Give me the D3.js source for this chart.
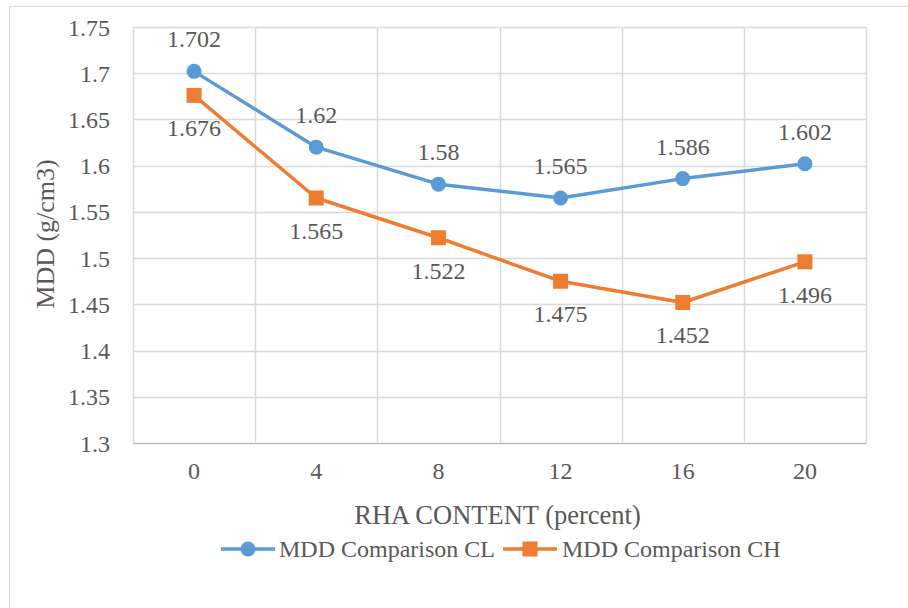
<!DOCTYPE html>
<html><head><meta charset="utf-8">
<script src="https://cdn.jsdelivr.net/npm/d3@7"></script>
<style>
html,body{margin:0;padding:0;background:#fff;}
</style></head>
<body>
<svg id="chart" width="908" height="608" font-family="'Liberation Serif', 'Times New Roman', 'DejaVu Serif', serif"></svg>
<script>
const categories = ["0","4","8","12","16","20"];
const seriesCL = [1.702,1.62,1.58,1.565,1.586,1.602];
const seriesCH = [1.676,1.565,1.522,1.475,1.452,1.496];
const yTicks = [1.3,1.35,1.4,1.45,1.5,1.55,1.6,1.65,1.7,1.75];
const seriesNames = ["MDD Comparison CL","MDD Comparison CH"];
const colors = ["#5B9BD5","#ED7D31"];
const FONT = "'Liberation Serif', 'Times New Roman', 'DejaVu Serif', serif";
const TXT = "#595959";

const svg = d3.select("#chart");
const m = {l:133, t:27, r:866, b:443};

svg.append("rect").attr("x",9.5).attr("y",6.5).attr("width",1000).attr("height",1000)
  .attr("fill","#fff").attr("stroke","#D9D9D9").attr("stroke-width",1);

const x = d3.scaleBand().domain(categories).range([m.l,m.r]).paddingInner(0).paddingOuter(0);
const y = d3.scaleLinear().domain([1.3,1.75]).range([m.b,m.t]);

function txt(sel){ return sel.style("font-family",FONT).attr("fill",TXT); }

// horizontal grid
svg.append("g").selectAll("line").data(yTicks).join("line")
  .attr("x1",m.l).attr("x2",m.r)
  .attr("y1",d=>Math.round(y(d))+0.5).attr("y2",d=>Math.round(y(d))+0.5)
  .attr("stroke",d=>d===1.3?"#BFBFBF":"#D9D9D9").attr("stroke-width",1.5);
// vertical grid at category boundaries
const bounds = categories.map(c=>x(c)).concat([m.r]);
svg.append("g").selectAll("line").data(bounds).join("line")
  .attr("x1",d=>Math.round(d)+0.5).attr("x2",d=>Math.round(d)+0.5)
  .attr("y1",m.t).attr("y2",m.b)
  .attr("stroke","#D9D9D9").attr("stroke-width",1.5);

// y tick labels
txt(svg.append("g").selectAll("text").data(yTicks).join("text"))
  .attr("x",110).attr("y",d=>y(d)+8.5)
  .attr("text-anchor","end").attr("font-size",24).text(d=>d);

// x tick labels
txt(svg.append("g").selectAll("text").data(categories).join("text"))
  .attr("x",d=>x(d)+x.bandwidth()/2).attr("y",479)
  .attr("text-anchor","middle").attr("font-size",24).text(d=>d);

// axis titles
txt(svg.append("text")).attr("x",(m.l+m.r)/2-2).attr("y",524).attr("text-anchor","middle")
  .attr("font-size",26.5).text("RHA CONTENT (percent)");
txt(svg.append("text")).attr("transform","translate(54,234) rotate(-90)").attr("text-anchor","middle")
  .attr("font-size",26).text("MDD (g/cm3)");

const cx = d=>x(d)+x.bandwidth()/2;
const line = d3.line().x((d,i)=>cx(categories[i])).y(d=>y(d));

[seriesCL, seriesCH].forEach((s,k)=>{
  svg.append("path").datum(s).attr("d",line).attr("fill","none")
    .attr("stroke",colors[k]).attr("stroke-width",3.5).attr("stroke-linejoin","round");
  const g = svg.append("g");
  if(k===0){
    g.selectAll("circle").data(s).join("circle")
      .attr("cx",(d,i)=>cx(categories[i])).attr("cy",d=>y(d)).attr("r",7.5).attr("fill",colors[k]);
  } else {
    g.selectAll("rect").data(s).join("rect")
      .attr("x",(d,i)=>cx(categories[i])-7.5).attr("y",d=>y(d)-7.5)
      .attr("width",15).attr("height",15).attr("fill",colors[k]);
  }
  txt(svg.append("g").selectAll("text").data(s).join("text"))
    .attr("x",(d,i)=>cx(categories[i])).attr("y",d=>y(d)+(k===0?-24:41))
    .attr("text-anchor","middle").attr("font-size",24).text(d=>d);
});

// legend
const leg = [{x1:221,x2:275,tx:279},{x1:503,x2:557,tx:562}];
leg.forEach((L,k)=>{
  const ly = 549;
  svg.append("line").attr("x1",L.x1).attr("x2",L.x2).attr("y1",ly).attr("y2",ly)
    .attr("stroke",colors[k]).attr("stroke-width",3.5);
  const mx=(L.x1+L.x2)/2;
  if(k===0) svg.append("circle").attr("cx",mx).attr("cy",ly).attr("r",7.5).attr("fill",colors[k]);
  else svg.append("rect").attr("x",mx-7.5).attr("y",ly-7.5).attr("width",15).attr("height",15).attr("fill",colors[k]);
  txt(svg.append("text")).attr("x",L.tx).attr("y",557).attr("font-size",24).text(seriesNames[k]);
});
</script>
</body></html>
